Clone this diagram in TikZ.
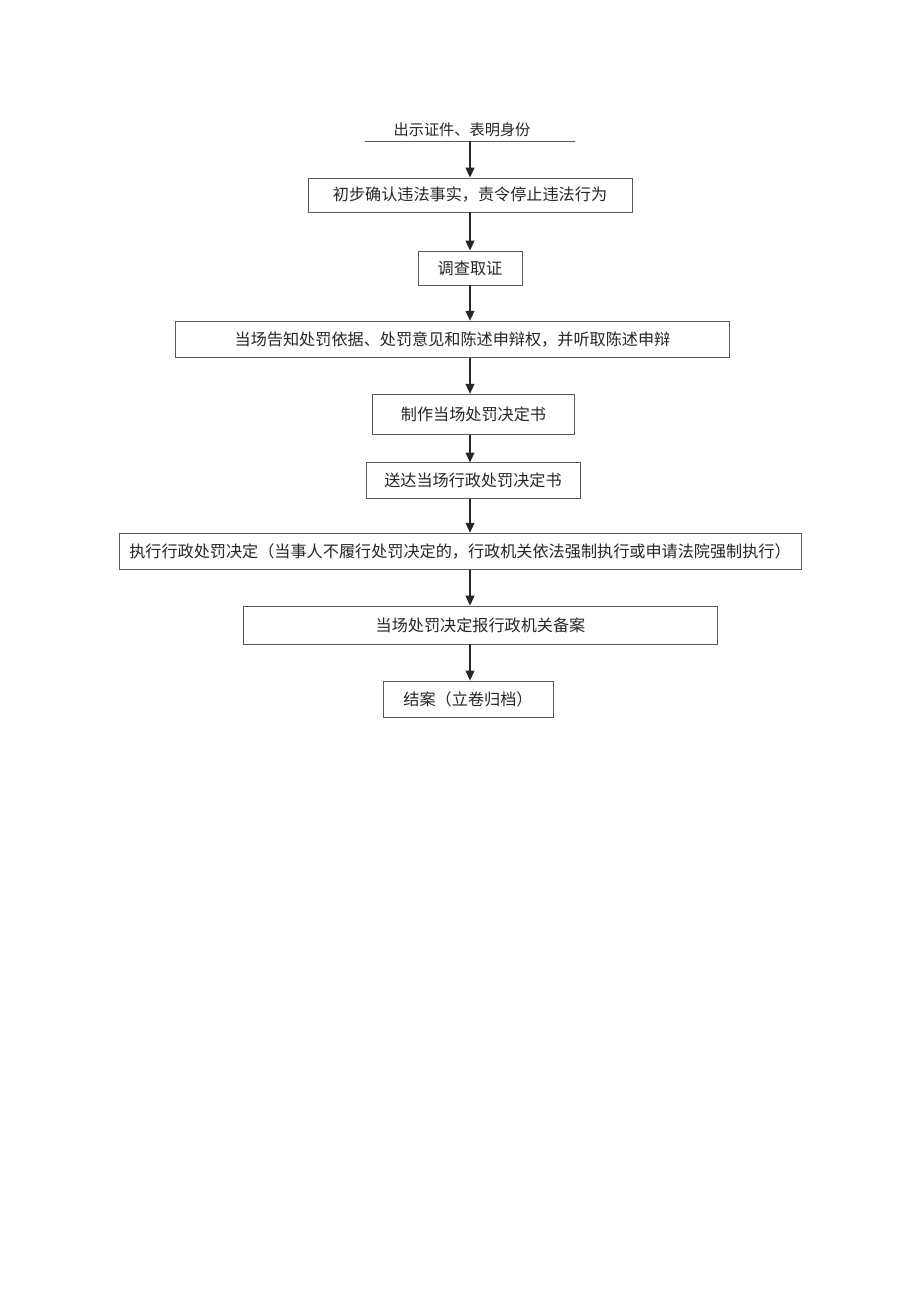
\documentclass[tikz,border=0pt]{standalone}
\usepackage{fontspec}
\newfontfamily\cjk{Noto Sans CJK SC}
\usetikzlibrary{arrows.meta, positioning}

\begin{document}
\begin{tikzpicture}[
        x=0.75pt, y=-0.75pt,
        % box style
        block/.style={
            rectangle,
            draw=black!65,
            line width=0.6pt,
            inner sep=0pt,
            text centered,
            text=black!85,
            fill=white,
            font=\cjk\fontsize{12.1}{14}\selectfont
        },
        arrow/.style={
            -{Triangle[length=2.6mm, width=2.3mm]},
            line width=1.1pt,
            black!85
        }
    ]

    % page frame
    \useasboundingbox (0,0) rectangle (920,1301);

    % --- nodes ---
    \node[font=\cjk\fontsize{11.4}{14}\selectfont, text=black!85] (title) at (462,130) {出示证件、表明身份};
    \coordinate (ulL) at (365,141);
    \coordinate (ulR) at (575,141);
    \coordinate (ax) at (470,141);

    \node[block, minimum width=243pt, minimum height=25.5pt] (confirm) at (470,195) {初步确认违法事实，责令停止违法行为};
    \node[block, minimum width=78pt, minimum height=25.5pt] (evidence) at (470,268) {调查取证};
    \node[block, minimum width=416pt, minimum height=27.5pt] (inform) at (452.5,339.5) {当场告知处罚依据、处罚意见和陈述申辩权，并听取陈述申辩};
    \node[block, minimum width=152pt, minimum height=30.5pt] (make) at (473.5,414.5) {制作当场处罚决定书};
    \node[block, minimum width=160.5pt, minimum height=26.5pt] (deliver) at (473,480.5) {送达当场行政处罚决定书};
    \node[block, minimum width=511.5pt, minimum height=27.5pt] (execute) at (460,551.5) {执行行政处罚决定（当事人不履行处罚决定的，行政机关依法强制执行或申请法院强制执行）};
    \node[block, minimum width=355pt, minimum height=28.5pt] (record) at (480.5,625) {当场处罚决定报行政机关备案};
    \node[block, minimum width=127.5pt, minimum height=27pt] (close) at (468,699) {结案（立卷归档）};

    % --- edges ---
    \draw[line width=0.6pt, black!65] (ulL) -- (ulR);
    \draw[arrow] (ax) -- (confirm.north -| ax);
    \draw[arrow] (confirm.south -| ax) -- (evidence.north -| ax);
    \draw[arrow] (evidence.south -| ax) -- (inform.north -| ax);
    \draw[arrow] (inform.south -| ax) -- (make.north -| ax);
    \draw[arrow] (make.south -| ax) -- (deliver.north -| ax);
    \draw[arrow] (deliver.south -| ax) -- (execute.north -| ax);
    \draw[arrow] (execute.south -| ax) -- (record.north -| ax);
    \draw[arrow] (record.south -| ax) -- (close.north -| ax);

\end{tikzpicture}
\end{document}
